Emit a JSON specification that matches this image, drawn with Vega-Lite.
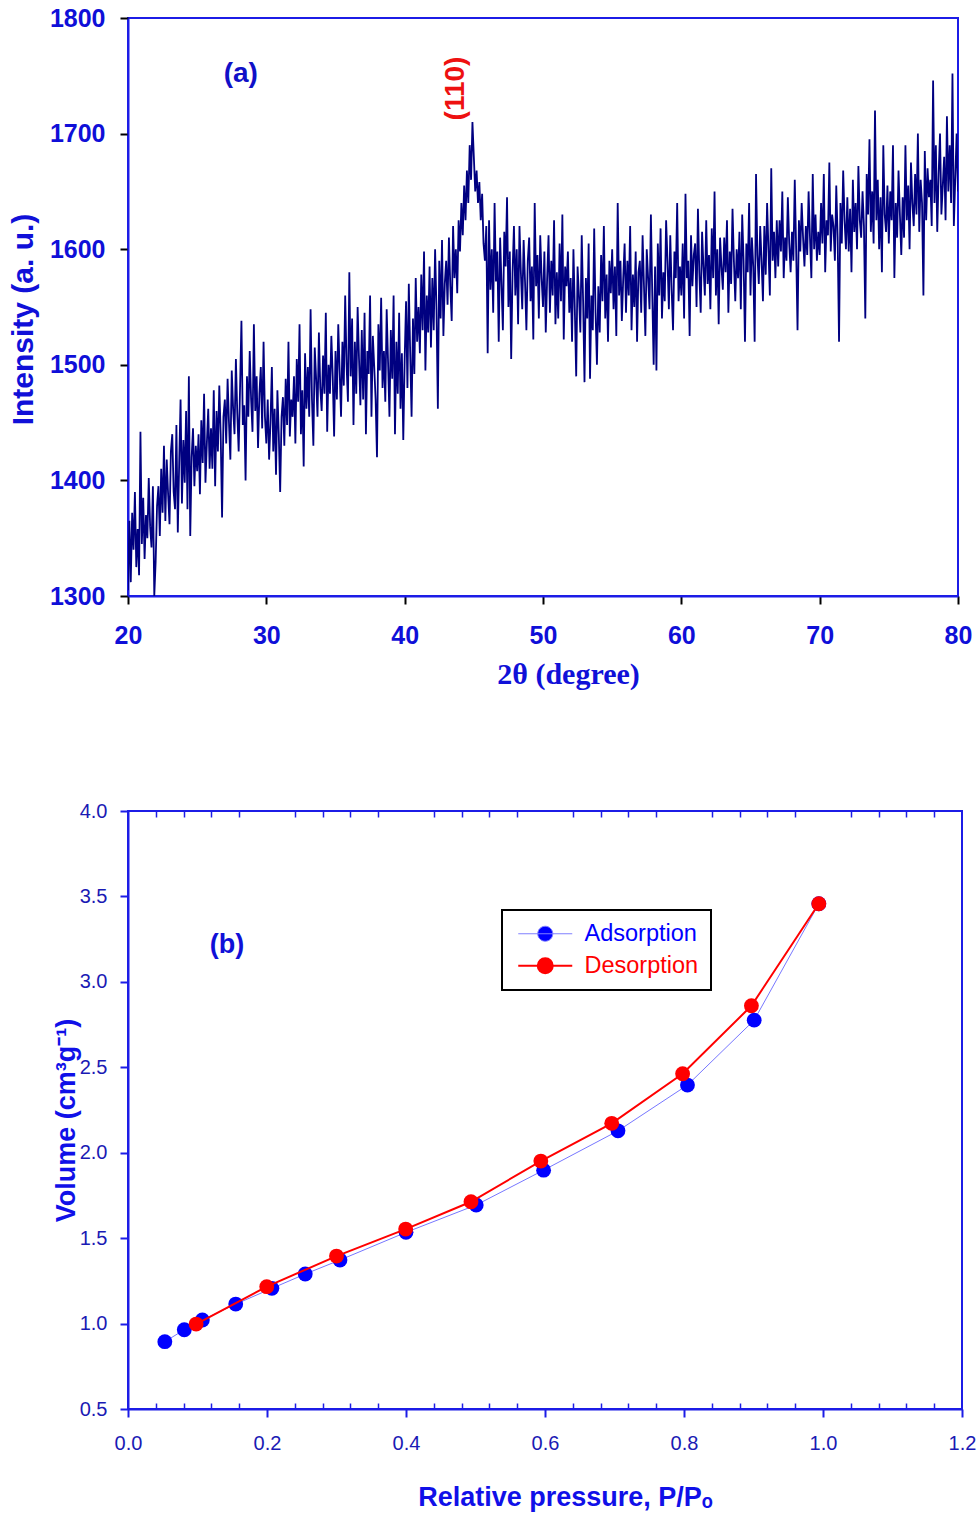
{
"$schema": "https://vega.github.io/schema/vega-lite/v6.json",
"padding": {"left": 7, "top": 5, "right": 5, "bottom": 5},
"background": "white",
"spacing": 215,
"bounds": "flush",
"config": {
  "font": "Liberation Sans",
  "view": {"stroke": "#1c1ce6", "strokeWidth": 2},
  "axis": {"grid": false}
},
"datasets": {
"xrd": [
{"t":20.0,"i":1305},{"t":20.1,"i":1365},{"t":20.2,"i":1312},{"t":20.3,"i":1372},{"t":20.4,"i":1340},{"t":20.5,"i":1390},{"t":20.6,"i":1325},{"t":20.7,"i":1358},{"t":20.8,"i":1318},{"t":20.9,"i":1442},
{"t":21.0,"i":1345},{"t":21.1,"i":1385},{"t":21.2,"i":1332},{"t":21.3,"i":1370},{"t":21.4,"i":1350},{"t":21.5,"i":1402},{"t":21.6,"i":1360},{"t":21.7,"i":1342},{"t":21.8,"i":1395},{"t":21.9,"i":1300},
{"t":22.0,"i":1330},{"t":22.1,"i":1378},{"t":22.2,"i":1395},{"t":22.3,"i":1352},{"t":22.4,"i":1410},{"t":22.5,"i":1372},{"t":22.6,"i":1430},{"t":22.7,"i":1365},{"t":22.8,"i":1418},{"t":22.9,"i":1388},
{"t":23.0,"i":1362},{"t":23.1,"i":1425},{"t":23.2,"i":1440},{"t":23.3,"i":1390},{"t":23.4,"i":1375},{"t":23.5,"i":1448},{"t":23.6,"i":1355},{"t":23.7,"i":1415},{"t":23.8,"i":1470},{"t":23.9,"i":1380},
{"t":24.0,"i":1435},{"t":24.1,"i":1398},{"t":24.2,"i":1460},{"t":24.3,"i":1375},{"t":24.4,"i":1490},{"t":24.5,"i":1352},{"t":24.6,"i":1420},{"t":24.7,"i":1445},{"t":24.8,"i":1395},{"t":24.9,"i":1430},
{"t":25.0,"i":1408},{"t":25.1,"i":1440},{"t":25.2,"i":1388},{"t":25.3,"i":1452},{"t":25.4,"i":1415},{"t":25.5,"i":1475},{"t":25.6,"i":1398},{"t":25.7,"i":1432},{"t":25.8,"i":1462},{"t":25.9,"i":1410},
{"t":26.0,"i":1445},{"t":26.1,"i":1410},{"t":26.2,"i":1478},{"t":26.3,"i":1395},{"t":26.4,"i":1460},{"t":26.5,"i":1425},{"t":26.6,"i":1482},{"t":26.7,"i":1440},{"t":26.8,"i":1368},{"t":26.9,"i":1455},
{"t":27.0,"i":1470},{"t":27.1,"i":1432},{"t":27.2,"i":1488},{"t":27.3,"i":1450},{"t":27.4,"i":1418},{"t":27.5,"i":1495},{"t":27.6,"i":1462},{"t":27.7,"i":1440},{"t":27.8,"i":1505},{"t":27.9,"i":1458},
{"t":28.0,"i":1425},{"t":28.1,"i":1480},{"t":28.2,"i":1538},{"t":28.3,"i":1448},{"t":28.4,"i":1465},{"t":28.5,"i":1400},{"t":28.6,"i":1490},{"t":28.7,"i":1455},{"t":28.8,"i":1512},{"t":28.9,"i":1470},
{"t":29.0,"i":1442},{"t":29.1,"i":1535},{"t":29.2,"i":1460},{"t":29.3,"i":1490},{"t":29.4,"i":1428},{"t":29.5,"i":1475},{"t":29.6,"i":1498},{"t":29.7,"i":1445},{"t":29.8,"i":1520},{"t":29.9,"i":1455},
{"t":30.0,"i":1432},{"t":30.1,"i":1470},{"t":30.2,"i":1418},{"t":30.3,"i":1450},{"t":30.4,"i":1498},{"t":30.5,"i":1425},{"t":30.6,"i":1462},{"t":30.7,"i":1405},{"t":30.8,"i":1478},{"t":30.9,"i":1440},
{"t":31.0,"i":1390},{"t":31.1,"i":1455},{"t":31.2,"i":1472},{"t":31.3,"i":1430},{"t":31.4,"i":1488},{"t":31.5,"i":1448},{"t":31.6,"i":1520},{"t":31.7,"i":1438},{"t":31.8,"i":1470},{"t":31.9,"i":1455},
{"t":32.0,"i":1490},{"t":32.1,"i":1432},{"t":32.2,"i":1505},{"t":32.3,"i":1468},{"t":32.4,"i":1535},{"t":32.5,"i":1440},{"t":32.6,"i":1478},{"t":32.7,"i":1412},{"t":32.8,"i":1510},{"t":32.9,"i":1462},
{"t":33.0,"i":1498},{"t":33.1,"i":1455},{"t":33.2,"i":1548},{"t":33.3,"i":1470},{"t":33.4,"i":1430},{"t":33.5,"i":1515},{"t":33.6,"i":1488},{"t":33.7,"i":1455},{"t":33.8,"i":1528},{"t":33.9,"i":1480},
{"t":34.0,"i":1460},{"t":34.1,"i":1508},{"t":34.2,"i":1475},{"t":34.3,"i":1545},{"t":34.4,"i":1442},{"t":34.5,"i":1500},{"t":34.6,"i":1475},{"t":34.7,"i":1525},{"t":34.8,"i":1490},{"t":34.9,"i":1438},
{"t":35.0,"i":1512},{"t":35.1,"i":1470},{"t":35.2,"i":1535},{"t":35.3,"i":1495},{"t":35.4,"i":1455},{"t":35.5,"i":1520},{"t":35.6,"i":1482},{"t":35.7,"i":1560},{"t":35.8,"i":1500},{"t":35.9,"i":1468},
{"t":36.0,"i":1580},{"t":36.1,"i":1490},{"t":36.2,"i":1540},{"t":36.3,"i":1448},{"t":36.4,"i":1520},{"t":36.5,"i":1475},{"t":36.6,"i":1550},{"t":36.7,"i":1505},{"t":36.8,"i":1465},{"t":36.9,"i":1530},
{"t":37.0,"i":1470},{"t":37.1,"i":1545},{"t":37.2,"i":1440},{"t":37.3,"i":1512},{"t":37.4,"i":1492},{"t":37.5,"i":1560},{"t":37.6,"i":1455},{"t":37.7,"i":1525},{"t":37.8,"i":1498},{"t":37.9,"i":1470},
{"t":38.0,"i":1420},{"t":38.1,"i":1535},{"t":38.2,"i":1495},{"t":38.3,"i":1558},{"t":38.4,"i":1480},{"t":38.5,"i":1512},{"t":38.6,"i":1468},{"t":38.7,"i":1548},{"t":38.8,"i":1502},{"t":38.9,"i":1455},
{"t":39.0,"i":1530},{"t":39.1,"i":1488},{"t":39.2,"i":1560},{"t":39.3,"i":1440},{"t":39.4,"i":1520},{"t":39.5,"i":1475},{"t":39.6,"i":1545},{"t":39.7,"i":1462},{"t":39.8,"i":1510},{"t":39.9,"i":1435},
{"t":40.0,"i":1505},{"t":40.1,"i":1555},{"t":40.2,"i":1480},{"t":40.3,"i":1570},{"t":40.4,"i":1510},{"t":40.5,"i":1455},{"t":40.6,"i":1540},{"t":40.7,"i":1492},{"t":40.8,"i":1575},{"t":40.9,"i":1520},
{"t":41.0,"i":1550},{"t":41.1,"i":1510},{"t":41.2,"i":1578},{"t":41.3,"i":1530},{"t":41.4,"i":1598},{"t":41.5,"i":1495},{"t":41.6,"i":1560},{"t":41.7,"i":1528},{"t":41.8,"i":1585},{"t":41.9,"i":1515},
{"t":42.0,"i":1575},{"t":42.1,"i":1530},{"t":42.2,"i":1600},{"t":42.3,"i":1548},{"t":42.4,"i":1462},{"t":42.5,"i":1590},{"t":42.6,"i":1540},{"t":42.7,"i":1608},{"t":42.8,"i":1525},{"t":42.9,"i":1570},
{"t":43.0,"i":1590},{"t":43.1,"i":1552},{"t":43.2,"i":1610},{"t":43.3,"i":1568},{"t":43.4,"i":1538},{"t":43.5,"i":1620},{"t":43.6,"i":1575},{"t":43.7,"i":1600},{"t":43.8,"i":1562},{"t":43.9,"i":1625},
{"t":44.0,"i":1598},{"t":44.1,"i":1640},{"t":44.2,"i":1612},{"t":44.3,"i":1655},{"t":44.4,"i":1625},{"t":44.5,"i":1668},{"t":44.6,"i":1640},{"t":44.7,"i":1690},{"t":44.8,"i":1660},{"t":44.9,"i":1710},
{"t":45.0,"i":1680},{"t":45.1,"i":1650},{"t":45.2,"i":1668},{"t":45.3,"i":1640},{"t":45.4,"i":1658},{"t":45.5,"i":1625},{"t":45.6,"i":1648},{"t":45.7,"i":1605},{"t":45.8,"i":1590},{"t":45.9,"i":1620},
{"t":46.0,"i":1510},{"t":46.1,"i":1625},{"t":46.2,"i":1565},{"t":46.3,"i":1600},{"t":46.4,"i":1545},{"t":46.5,"i":1640},{"t":46.6,"i":1572},{"t":46.7,"i":1598},{"t":46.8,"i":1520},{"t":46.9,"i":1610},
{"t":47.0,"i":1570},{"t":47.1,"i":1530},{"t":47.2,"i":1615},{"t":47.3,"i":1585},{"t":47.4,"i":1645},{"t":47.5,"i":1550},{"t":47.6,"i":1598},{"t":47.7,"i":1505},{"t":47.8,"i":1580},{"t":47.9,"i":1620},
{"t":48.0,"i":1560},{"t":48.1,"i":1600},{"t":48.2,"i":1535},{"t":48.3,"i":1620},{"t":48.4,"i":1580},{"t":48.5,"i":1548},{"t":48.6,"i":1608},{"t":48.7,"i":1572},{"t":48.8,"i":1530},{"t":48.9,"i":1590},
{"t":49.0,"i":1610},{"t":49.1,"i":1555},{"t":49.2,"i":1585},{"t":49.3,"i":1522},{"t":49.4,"i":1640},{"t":49.5,"i":1568},{"t":49.6,"i":1595},{"t":49.7,"i":1540},{"t":49.8,"i":1612},{"t":49.9,"i":1575},
{"t":50.0,"i":1550},{"t":50.1,"i":1598},{"t":50.2,"i":1528},{"t":50.3,"i":1575},{"t":50.4,"i":1612},{"t":50.5,"i":1545},{"t":50.6,"i":1590},{"t":50.7,"i":1560},{"t":50.8,"i":1625},{"t":50.9,"i":1535},
{"t":51.0,"i":1580},{"t":51.1,"i":1540},{"t":51.2,"i":1605},{"t":51.3,"i":1555},{"t":51.4,"i":1630},{"t":51.5,"i":1522},{"t":51.6,"i":1585},{"t":51.7,"i":1568},{"t":51.8,"i":1598},{"t":51.9,"i":1545},
{"t":52.0,"i":1575},{"t":52.1,"i":1520},{"t":52.2,"i":1600},{"t":52.3,"i":1548},{"t":52.4,"i":1490},{"t":52.5,"i":1585},{"t":52.6,"i":1560},{"t":52.7,"i":1528},{"t":52.8,"i":1612},{"t":52.9,"i":1555},
{"t":53.0,"i":1485},{"t":53.1,"i":1575},{"t":53.2,"i":1540},{"t":53.3,"i":1605},{"t":53.4,"i":1488},{"t":53.5,"i":1560},{"t":53.6,"i":1530},{"t":53.7,"i":1618},{"t":53.8,"i":1545},{"t":53.9,"i":1500},
{"t":54.0,"i":1568},{"t":54.1,"i":1528},{"t":54.2,"i":1595},{"t":54.3,"i":1555},{"t":54.4,"i":1620},{"t":54.5,"i":1540},{"t":54.6,"i":1578},{"t":54.7,"i":1520},{"t":54.8,"i":1590},{"t":54.9,"i":1562},
{"t":55.0,"i":1600},{"t":55.1,"i":1548},{"t":55.2,"i":1585},{"t":55.3,"i":1525},{"t":55.4,"i":1640},{"t":55.5,"i":1560},{"t":55.6,"i":1590},{"t":55.7,"i":1538},{"t":55.8,"i":1575},{"t":55.9,"i":1605},
{"t":56.0,"i":1545},{"t":56.1,"i":1590},{"t":56.2,"i":1560},{"t":56.3,"i":1620},{"t":56.4,"i":1530},{"t":56.5,"i":1578},{"t":56.6,"i":1550},{"t":56.7,"i":1598},{"t":56.8,"i":1520},{"t":56.9,"i":1580},
{"t":57.0,"i":1590},{"t":57.1,"i":1545},{"t":57.2,"i":1612},{"t":57.3,"i":1568},{"t":57.4,"i":1525},{"t":57.5,"i":1600},{"t":57.6,"i":1575},{"t":57.7,"i":1548},{"t":57.8,"i":1630},{"t":57.9,"i":1560},
{"t":58.0,"i":1500},{"t":58.1,"i":1585},{"t":58.2,"i":1495},{"t":58.3,"i":1605},{"t":58.4,"i":1560},{"t":58.5,"i":1618},{"t":58.6,"i":1540},{"t":58.7,"i":1580},{"t":58.8,"i":1555},{"t":58.9,"i":1625},
{"t":59.0,"i":1590},{"t":59.1,"i":1548},{"t":59.2,"i":1612},{"t":59.3,"i":1565},{"t":59.4,"i":1530},{"t":59.5,"i":1598},{"t":59.6,"i":1575},{"t":59.7,"i":1640},{"t":59.8,"i":1555},{"t":59.9,"i":1585},
{"t":60.0,"i":1560},{"t":60.1,"i":1605},{"t":60.2,"i":1540},{"t":60.3,"i":1648},{"t":60.4,"i":1575},{"t":60.5,"i":1590},{"t":60.6,"i":1525},{"t":60.7,"i":1612},{"t":60.8,"i":1568},{"t":60.9,"i":1595},
{"t":61.0,"i":1605},{"t":61.1,"i":1550},{"t":61.2,"i":1635},{"t":61.3,"i":1580},{"t":61.4,"i":1545},{"t":61.5,"i":1615},{"t":61.6,"i":1585},{"t":61.7,"i":1560},{"t":61.8,"i":1625},{"t":61.9,"i":1570},
{"t":62.0,"i":1595},{"t":62.1,"i":1548},{"t":62.2,"i":1618},{"t":62.3,"i":1575},{"t":62.4,"i":1650},{"t":62.5,"i":1560},{"t":62.6,"i":1600},{"t":62.7,"i":1535},{"t":62.8,"i":1610},{"t":62.9,"i":1585},
{"t":63.0,"i":1565},{"t":63.1,"i":1610},{"t":63.2,"i":1580},{"t":63.3,"i":1625},{"t":63.4,"i":1545},{"t":63.5,"i":1598},{"t":63.6,"i":1570},{"t":63.7,"i":1635},{"t":63.8,"i":1590},{"t":63.9,"i":1555},
{"t":64.0,"i":1600},{"t":64.1,"i":1575},{"t":64.2,"i":1615},{"t":64.3,"i":1548},{"t":64.4,"i":1630},{"t":64.5,"i":1590},{"t":64.6,"i":1520},{"t":64.7,"i":1605},{"t":64.8,"i":1580},{"t":64.9,"i":1640},
{"t":65.0,"i":1560},{"t":65.1,"i":1610},{"t":65.2,"i":1585},{"t":65.3,"i":1520},{"t":65.4,"i":1665},{"t":65.5,"i":1595},{"t":65.6,"i":1570},{"t":65.7,"i":1620},{"t":65.8,"i":1590},{"t":65.9,"i":1555},
{"t":66.0,"i":1620},{"t":66.1,"i":1578},{"t":66.2,"i":1640},{"t":66.3,"i":1600},{"t":66.4,"i":1560},{"t":66.5,"i":1670},{"t":66.6,"i":1590},{"t":66.7,"i":1615},{"t":66.8,"i":1575},{"t":66.9,"i":1625},
{"t":67.0,"i":1585},{"t":67.1,"i":1625},{"t":67.2,"i":1598},{"t":67.3,"i":1650},{"t":67.4,"i":1575},{"t":67.5,"i":1610},{"t":67.6,"i":1590},{"t":67.7,"i":1645},{"t":67.8,"i":1605},{"t":67.9,"i":1580},
{"t":68.0,"i":1615},{"t":68.1,"i":1590},{"t":68.2,"i":1660},{"t":68.3,"i":1600},{"t":68.4,"i":1530},{"t":68.5,"i":1625},{"t":68.6,"i":1598},{"t":68.7,"i":1640},{"t":68.8,"i":1610},{"t":68.9,"i":1585},
{"t":69.0,"i":1620},{"t":69.1,"i":1595},{"t":69.2,"i":1650},{"t":69.3,"i":1610},{"t":69.4,"i":1575},{"t":69.5,"i":1665},{"t":69.6,"i":1600},{"t":69.7,"i":1630},{"t":69.8,"i":1590},{"t":69.9,"i":1615},
{"t":70.0,"i":1595},{"t":70.1,"i":1640},{"t":70.2,"i":1605},{"t":70.3,"i":1665},{"t":70.4,"i":1580},{"t":70.5,"i":1625},{"t":70.6,"i":1612},{"t":70.7,"i":1675},{"t":70.8,"i":1598},{"t":70.9,"i":1630},
{"t":71.0,"i":1620},{"t":71.1,"i":1590},{"t":71.2,"i":1655},{"t":71.3,"i":1610},{"t":71.4,"i":1520},{"t":71.5,"i":1640},{"t":71.6,"i":1605},{"t":71.7,"i":1668},{"t":71.8,"i":1625},{"t":71.9,"i":1600},
{"t":72.0,"i":1645},{"t":72.1,"i":1598},{"t":72.2,"i":1635},{"t":72.3,"i":1580},{"t":72.4,"i":1660},{"t":72.5,"i":1615},{"t":72.6,"i":1640},{"t":72.7,"i":1600},{"t":72.8,"i":1672},{"t":72.9,"i":1625},
{"t":73.0,"i":1610},{"t":73.1,"i":1650},{"t":73.2,"i":1620},{"t":73.3,"i":1540},{"t":73.4,"i":1665},{"t":73.5,"i":1630},{"t":73.6,"i":1695},{"t":73.7,"i":1615},{"t":73.8,"i":1650},{"t":73.9,"i":1605},
{"t":74.0,"i":1720},{"t":74.1,"i":1625},{"t":74.2,"i":1660},{"t":74.3,"i":1600},{"t":74.4,"i":1645},{"t":74.5,"i":1580},{"t":74.6,"i":1690},{"t":74.7,"i":1630},{"t":74.8,"i":1615},{"t":74.9,"i":1655},
{"t":75.0,"i":1605},{"t":75.1,"i":1650},{"t":75.2,"i":1625},{"t":75.3,"i":1690},{"t":75.4,"i":1575},{"t":75.5,"i":1640},{"t":75.6,"i":1610},{"t":75.7,"i":1668},{"t":75.8,"i":1630},{"t":75.9,"i":1595},
{"t":76.0,"i":1645},{"t":76.1,"i":1610},{"t":76.2,"i":1690},{"t":76.3,"i":1625},{"t":76.4,"i":1655},{"t":76.5,"i":1600},{"t":76.6,"i":1675},{"t":76.7,"i":1640},{"t":76.8,"i":1620},{"t":76.9,"i":1665},
{"t":77.0,"i":1630},{"t":77.1,"i":1700},{"t":77.2,"i":1615},{"t":77.3,"i":1660},{"t":77.4,"i":1640},{"t":77.5,"i":1560},{"t":77.6,"i":1685},{"t":77.7,"i":1625},{"t":77.8,"i":1670},{"t":77.9,"i":1645},
{"t":78.0,"i":1660},{"t":78.1,"i":1620},{"t":78.2,"i":1746},{"t":78.3,"i":1640},{"t":78.4,"i":1690},{"t":78.5,"i":1615},{"t":78.6,"i":1665},{"t":78.7,"i":1700},{"t":78.8,"i":1630},{"t":78.9,"i":1655},
{"t":79.0,"i":1680},{"t":79.1,"i":1625},{"t":79.2,"i":1715},{"t":79.3,"i":1650},{"t":79.4,"i":1690},{"t":79.5,"i":1640},{"t":79.6,"i":1752},{"t":79.7,"i":1620},{"t":79.8,"i":1660},{"t":79.9,"i":1700},
{"t":80.0,"i":1650}
],
"iso": [
{"p":0.053,"v":0.894,"s":"Adsorption"},{"p":0.081,"v":0.964,"s":"Adsorption"},{"p":0.107,"v":1.021,"s":"Adsorption"},{"p":0.155,"v":1.114,"s":"Adsorption"},{"p":0.207,"v":1.206,"s":"Adsorption"},{"p":0.255,"v":1.290,"s":"Adsorption"},{"p":0.305,"v":1.372,"s":"Adsorption"},{"p":0.400,"v":1.534,"s":"Adsorption"},{"p":0.501,"v":1.694,"s":"Adsorption"},{"p":0.598,"v":1.898,"s":"Adsorption"},{"p":0.705,"v":2.128,"s":"Adsorption"},{"p":0.805,"v":2.396,"s":"Adsorption"},{"p":0.901,"v":2.776,"s":"Adsorption"},{"p":0.994,"v":3.457,"s":"Adsorption"},
{"p":0.994,"v":3.457,"s":"Desorption"},{"p":0.897,"v":2.860,"s":"Desorption"},{"p":0.798,"v":2.462,"s":"Desorption"},{"p":0.696,"v":2.172,"s":"Desorption"},{"p":0.594,"v":1.951,"s":"Desorption"},{"p":0.4935,"v":1.713,"s":"Desorption"},{"p":0.3995,"v":1.553,"s":"Desorption"},{"p":0.300,"v":1.395,"s":"Desorption"},{"p":0.1996,"v":1.216,"s":"Desorption"},{"p":0.098,"v":0.997,"s":"Desorption"}
]
},
"vconcat": [
{
  "width": 830, "height": 578,
  "layer": [
    {
      "data": {"name": "xrd"},
      "mark": {"type": "line", "color": "#000080", "strokeWidth": 1.8, "clip": true},
      "encoding": {
        "x": {"field": "t", "type": "quantitative",
          "scale": {"domain": [20, 80], "nice": false, "zero": false},
          "axis": {"values": [20, 30, 40, 50, 60, 70, 80], "labelFontSize": 25, "labelFontWeight": "bold", "labelColor": "#0f0fd8", "labelFlush": false, "labelPadding": 19,
                   "tickColor": "black", "tickSize": 8, "tickWidth": 2, "domainColor": "#1c1ce6", "domainWidth": 2,
                   "title": "2θ (degree)", "titleFont": "Liberation Serif", "titleFontSize": 30, "titleFontWeight": "bold", "titleColor": "#1010d8",
                   "titleX": 440, "titleY": 87, "titleBaseline": "alphabetic", "titleAlign": "center"}},
        "y": {"field": "i", "type": "quantitative",
          "scale": {"domain": [1300, 1800], "nice": false, "zero": false},
          "axis": {"values": [1300, 1400, 1500, 1600, 1700, 1800], "format": "d", "labelFontSize": 25, "labelFontWeight": "bold", "labelColor": "#0f0fd8", "labelFlush": false, "labelPadding": 15,
                   "tickColor": "black", "tickSize": 8, "tickWidth": 2, "domainColor": "#1c1ce6", "domainWidth": 2,
                   "title": "Intensity (a. u.)", "titleFontSize": 30, "titleFontWeight": "bold", "titleColor": "#1010d8",
                   "titleX": -96, "titleY": 301, "titleAngle": 270, "titleBaseline": "alphabetic", "titleAlign": "center"}}
      }
    },
    {
      "data": {"values": [{"t": 28.15, "i": 1751.6, "lab": "(a)"}]},
      "mark": {"type": "text", "fontSize": 28, "fontWeight": "bold", "color": "#1010c8", "baseline": "middle", "align": "center"},
      "encoding": {"x": {"field": "t", "type": "quantitative"}, "y": {"field": "i", "type": "quantitative"}, "text": {"field": "lab"}}
    },
    {
      "data": {"values": [{"t": 43.7, "i": 1739, "lab": "(110)"}]},
      "mark": {"type": "text", "fontSize": 28, "fontWeight": "bold", "color": "#ee1111", "angle": 270, "baseline": "middle", "align": "center"},
      "encoding": {"x": {"field": "t", "type": "quantitative"}, "y": {"field": "i", "type": "quantitative"}, "text": {"field": "lab"}}
    }
  ]
},
{
  "width": 834, "height": 598,
  "data": {"name": "iso"},
  "layer": [
    {
      "transform": [{"filter": "datum.s === 'Adsorption'"}],
      "mark": {"type": "line", "color": "#7777ff", "strokeWidth": 1},
      "encoding": {
        "x": {"field": "p", "type": "quantitative",
          "scale": {"domain": [0, 1.2], "nice": false, "zero": false},
          "axis": {"orient": "bottom", "values": [0, 0.2, 0.4, 0.6, 0.8, 1.0, 1.2], "format": ".1f", "labelFontSize": 20, "labelColor": "#1a1ab4", "labelFlush": false, "labelPadding": 16,
                   "tickColor": "#1c1ce6", "tickSize": 8, "tickWidth": 2, "domainColor": "#1c1ce6", "domainWidth": 2,
                   "title": "Relative pressure, P/Pₒ", "titleFontSize": 27, "titleFontWeight": "bold", "titleColor": "#1010e8",
                   "titleX": 437, "titleY": 96, "titleBaseline": "alphabetic", "titleAlign": "center"}},
        "y": {"field": "v", "type": "quantitative",
          "scale": {"domain": [0.5, 4.0], "nice": false, "zero": false},
          "axis": {"values": [0.5, 1.0, 1.5, 2.0, 2.5, 3.0, 3.5, 4.0], "format": ".1f", "labelFontSize": 20, "labelColor": "#1a1ab4", "labelFlush": false, "labelPadding": 13,
                   "tickColor": "#1c1ce6", "tickSize": 8, "tickWidth": 2, "domainColor": "#1c1ce6", "domainWidth": 2,
                   "title": "Volume (cm³g⁻¹)", "titleFontSize": 27, "titleFontWeight": "bold", "titleColor": "#1010e8",
                   "titleX": -54, "titleY": 309, "titleAngle": 270, "titleBaseline": "alphabetic", "titleAlign": "center"}}
      }
    },
    {
      "transform": [{"filter": "datum.s === 'Adsorption'"}],
      "mark": {"type": "point", "filled": true, "size": 220, "opacity": 1},
      "encoding": {
        "x": {"field": "p", "type": "quantitative",
          "axis": {"orient": "bottom", "values": [0.04,0.08,0.12,0.16,0.24,0.28,0.32,0.36,0.44,0.48,0.52,0.56,0.64,0.68,0.72,0.76,0.84,0.88,0.92,0.96,1.04,1.08,1.12,1.16],
                   "tickSize": -6, "tickColor": "#1c1ce6", "tickWidth": 1.5, "labels": false, "domain": false, "title": null}},
        "y": {"field": "v", "type": "quantitative", "axis": null},
        "color": {"field": "s", "type": "nominal",
          "scale": {"domain": ["Adsorption", "Desorption"], "range": ["#0000ff", "#ff0000"]},
          "legend": {"orient": "none", "legendX": 374, "legendY": 892, "title": null,
                     "symbolType": "M-1,0L6.2,0M1.6,0A1,1,0,1,1,3.6,0A1,1,0,1,1,1.6,0Z",
                     "symbolSize": 225, "symbolOpacity": 1,
                     "labelFontSize": 23.5, "labelFont": "Liberation Sans", "labelOffset": 47,
                     "strokeColor": "black", "fillColor": "white", "padding": 12, "rowPadding": 7,
                     "encode": {
                       "legend": {"update": {"strokeWidth": {"value": 2}}},
                       "labels": {"update": {"fill": {"signal": "datum.value === 'Adsorption' ? '#0000ff' : '#ff0000'"}}},
                       "symbols": {"update": {"stroke": {"signal": "datum.value === 'Adsorption' ? '#8080ff' : '#ff0000'"}, "strokeWidth": {"signal": "datum.value === 'Adsorption' ? 1 : 2"}}}
                     }}}
      }
    },
    {
      "transform": [{"filter": "datum.s === 'Desorption'"}],
      "mark": {"type": "line", "color": "#ff0000", "strokeWidth": 2},
      "encoding": {
        "x": {"field": "p", "type": "quantitative",
          "axis": {"orient": "top", "values": [0.04,0.08,0.12,0.16,0.24,0.28,0.32,0.36,0.44,0.48,0.52,0.56,0.64,0.68,0.72,0.76,0.84,0.88,0.92,0.96,1.04,1.08,1.12,1.16],
                   "tickSize": -6, "tickColor": "#1c1ce6", "tickWidth": 1.5, "labels": false, "domain": false, "title": null}},
        "y": {"field": "v", "type": "quantitative", "axis": null}
      }
    },
    {
      "transform": [{"filter": "datum.s === 'Desorption'"}],
      "mark": {"type": "point", "filled": true, "size": 220, "opacity": 1},
      "encoding": {
        "x": {"field": "p", "type": "quantitative", "axis": null},
        "y": {"field": "v", "type": "quantitative", "axis": null},
        "color": {"field": "s", "type": "nominal"}
      }
    },
    {
      "data": {"values": [{"p": 0.1424, "v": 3.215, "lab": "(b)"}]},
      "mark": {"type": "text", "fontSize": 27, "fontWeight": "bold", "color": "#1010d8", "baseline": "middle", "align": "center"},
      "encoding": {
        "x": {"field": "p", "type": "quantitative", "axis": null},
        "y": {"field": "v", "type": "quantitative", "axis": null},
        "text": {"field": "lab"}
      }
    }
  ],
  "resolve": {"axis": {"x": "independent", "y": "independent"}}
}
]
}
